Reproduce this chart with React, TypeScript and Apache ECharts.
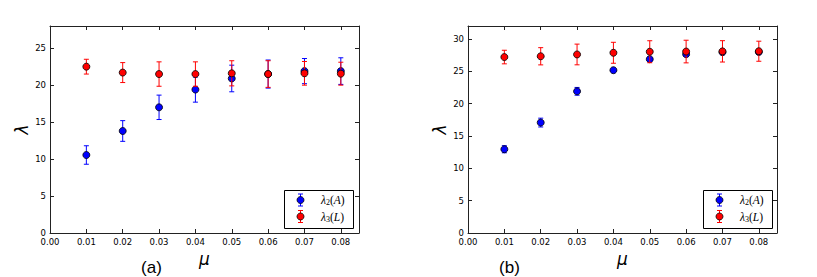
import React, { useEffect, useRef } from 'react';
import * as echarts from 'echarts';

// x positions (mu)
const MU = [0.01, 0.02, 0.03, 0.04, 0.05, 0.06, 0.07, 0.08];

// panel (a)
const A_L2_MEAN = [10.55, 13.8, 17.0, 19.4, 20.9, 21.5, 21.9, 21.9];
const A_L2_ERR = [1.25, 1.4, 1.65, 1.7, 1.8, 1.9, 1.7, 1.8];
const A_L3_MEAN = [22.5, 21.7, 21.5, 21.5, 21.6, 21.5, 21.6, 21.55];
const A_L3_ERR = [1.0, 1.35, 1.65, 1.65, 1.7, 1.8, 1.6, 1.55];

// panel (b)
const B_L2_MEAN = [12.95, 17.07, 21.9, 25.17, 26.87, 27.64, 27.95, 27.98];
const B_L2_ERR = [0.55, 0.68, 0.6, 0.3, 0.3, 0.35, 0.3, 0.3];
const B_L3_MEAN = [27.2, 27.32, 27.6, 27.86, 28.02, 28.05, 28.08, 28.1];
const B_L3_ERR = [1.05, 1.33, 1.6, 1.62, 1.7, 1.75, 1.65, 1.55];

const X_MAX = 0.085;
const A_Y_MAX = 28;
const B_Y_MAX = 32;

const BLUE = '#0000ff';
const RED = '#ff0000';
const FRAME = '#222222';

const errData = (mean: number[], err: number[]) =>
  MU.map((x, i) => [x, mean[i] - err[i], mean[i] + err[i]]);
const ptData = (mean: number[]) => MU.map((x, i) => [x, mean[i]]);

const errSeries = (grid: number, color: string, mean: number[], err: number[], z: number) => ({
  type: 'custom',
  xAxisIndex: grid * 2,
  yAxisIndex: grid * 2,
  z,
  encode: { x: 0, y: [1, 2] },
  data: errData(mean, err),
  renderItem: (params: any, api: any) => {
    const x = api.value(0);
    const lo = api.value(1);
    const hi = api.value(2);
    const pHi = api.coord([x, hi]);
    const pLo = api.coord([x, lo]);
    const w = 2.5;
    const style = { stroke: color, lineWidth: 1, fill: 'none' };
    return {
      type: 'group',
      children: [
        { type: 'line', shape: { x1: pHi[0], y1: pHi[1], x2: pLo[0], y2: pLo[1] }, style },
        { type: 'line', shape: { x1: pHi[0] - w, y1: pHi[1], x2: pHi[0] + w, y2: pHi[1] }, style },
        { type: 'line', shape: { x1: pLo[0] - w, y1: pLo[1], x2: pLo[0] + w, y2: pLo[1] }, style },
      ],
    };
  },
});

const ptSeries = (grid: number, color: string, mean: number[], z: number) => ({
  type: 'scatter',
  xAxisIndex: grid * 2,
  yAxisIndex: grid * 2,
  z,
  symbol: 'circle',
  symbolSize: 7,
  itemStyle: { color, borderColor: '#000', borderWidth: 0.8, opacity: 1 },
  data: ptData(mean),
});

const tickLabel = {
  fontFamily: 'DejaVu Sans',
  fontSize: 8.5,
  color: '#000',
};

const xAxis = (grid: number, pos: 'bottom' | 'top') => ({
  type: 'value',
  gridIndex: grid,
  position: pos,
  min: 0,
  max: X_MAX,
  interval: 0.01,
  axisLine: { show: true, onZero: false, lineStyle: { color: FRAME, width: 1 } },
  axisTick: { show: true, inside: true, length: 4, lineStyle: { color: FRAME, width: 1 } },
  axisLabel:
    pos === 'bottom'
      ? {
          show: true,
          margin: 4,
          showMinLabel: true,
          showMaxLabel: false,
          formatter: (v: number) => v.toFixed(2),
          ...tickLabel,
        }
      : { show: false },
  splitLine: { show: false },
  ...(pos === 'bottom'
    ? {
        name: 'μ',
        nameLocation: 'middle',
        nameGap: 17,
        nameTextStyle: { fontFamily: 'DejaVu Sans', fontStyle: 'italic', fontSize: 17, color: '#000' },
      }
    : {}),
});

const yAxis = (grid: number, pos: 'left' | 'right', max: number) => ({
  type: 'value',
  gridIndex: grid,
  position: pos,
  min: 0,
  max,
  interval: 5,
  axisLine: { show: true, onZero: false, lineStyle: { color: FRAME, width: 1 } },
  axisTick: { show: true, inside: true, length: 4, lineStyle: { color: FRAME, width: 1 } },
  axisLabel:
    pos === 'left'
      ? { show: true, margin: 4, showMinLabel: true, showMaxLabel: false, ...tickLabel }
      : { show: false },
  splitLine: { show: false },
  ...(pos === 'left'
    ? {
        name: 'λ',
        nameLocation: 'middle',
        nameRotate: 90,
        nameGap: 20,
        nameTextStyle: { fontFamily: 'DejaVu Sans', fontStyle: 'italic', fontSize: 17, color: '#000' },
      }
    : {}),
});

const legendRich = {
  i: { fontFamily: 'Liberation Serif', fontStyle: 'italic', fontSize: 11.5, color: '#000' },
  s: { fontFamily: 'Liberation Serif', fontSize: 8, color: '#000', padding: [5, 0, 0, 0] },
  n: { fontFamily: 'Liberation Serif', fontSize: 11.5, color: '#000' },
};

const legendGraphic = (left: number, top: number) => {
  const w = 69;
  const h = 38;
  const mx = left + 16.5;
  const entries = [
    { color: BLUE, y: top + 10, text: '{i|λ}{s|2}{n|(}{i|A}{n|)}' },
    { color: RED, y: top + 26.5, text: '{i|λ}{s|3}{n|(}{i|L}{n|)}' },
  ];
  const children: any[] = [
    {
      type: 'rect',
      shape: { x: left + 0.5, y: top + 0.5, width: w, height: h },
      style: { fill: '#fff', stroke: '#000', lineWidth: 1 },
    },
  ];
  entries.forEach((e) => {
    const ls = { stroke: e.color, lineWidth: 1 };
    children.push(
      { type: 'line', shape: { x1: mx, y1: e.y - 6, x2: mx, y2: e.y + 6 }, style: ls },
      { type: 'line', shape: { x1: mx - 2.5, y1: e.y - 6, x2: mx + 2.5, y2: e.y - 6 }, style: ls },
      { type: 'line', shape: { x1: mx - 2.5, y1: e.y + 6, x2: mx + 2.5, y2: e.y + 6 }, style: ls },
      { type: 'circle', shape: { cx: mx, cy: e.y, r: 3.5 }, style: { fill: e.color, stroke: '#000', lineWidth: 0.8 } },
      {
        type: 'text',
        x: left + 37,
        y: e.y,
        style: { text: e.text, rich: legendRich, verticalAlign: 'middle', align: 'left' },
      }
    );
  });
  return { type: 'group', z: 100, children };
};

export default function App() {
  const ref = useRef<HTMLDivElement>(null);
  useEffect(() => {
    document.body.style.margin = '0';
    if (!ref.current) return;
    const chart = echarts.init(ref.current, null, { renderer: 'svg' });
    chart.setOption({
      animation: false,
      backgroundColor: '#fff',
      grid: [
        { left: 50, top: 26, width: 309, height: 207 },
        { left: 468, top: 26, width: 309, height: 207 },
      ],
      xAxis: [xAxis(0, 'bottom'), xAxis(0, 'top'), xAxis(1, 'bottom'), xAxis(1, 'top')],
      yAxis: [
        yAxis(0, 'left', A_Y_MAX),
        yAxis(0, 'right', A_Y_MAX),
        yAxis(1, 'left', B_Y_MAX),
        yAxis(1, 'right', B_Y_MAX),
      ],
      series: [
        errSeries(0, BLUE, A_L2_MEAN, A_L2_ERR, 2),
        ptSeries(0, BLUE, A_L2_MEAN, 3),
        errSeries(0, RED, A_L3_MEAN, A_L3_ERR, 4),
        ptSeries(0, RED, A_L3_MEAN, 5),
        errSeries(1, BLUE, B_L2_MEAN, B_L2_ERR, 2),
        ptSeries(1, BLUE, B_L2_MEAN, 3),
        errSeries(1, RED, B_L3_MEAN, B_L3_ERR, 4),
        ptSeries(1, RED, B_L3_MEAN, 5),
      ],
      graphic: [
        legendGraphic(284, 190),
        legendGraphic(703, 190),
        {
          type: 'text',
          x: 151.5,
          y: 267,
          style: { text: '(a)', fontFamily: 'Liberation Sans', fontSize: 17, fill: '#000', align: 'center', verticalAlign: 'middle' },
        },
        {
          type: 'text',
          x: 509.5,
          y: 267,
          style: { text: '(b)', fontFamily: 'Liberation Sans', fontSize: 17, fill: '#000', align: 'center', verticalAlign: 'middle' },
        },
      ],
    });
    return () => chart.dispose();
  }, []);
  return <div ref={ref} style={{ width: 817, height: 277 }} />;
}
